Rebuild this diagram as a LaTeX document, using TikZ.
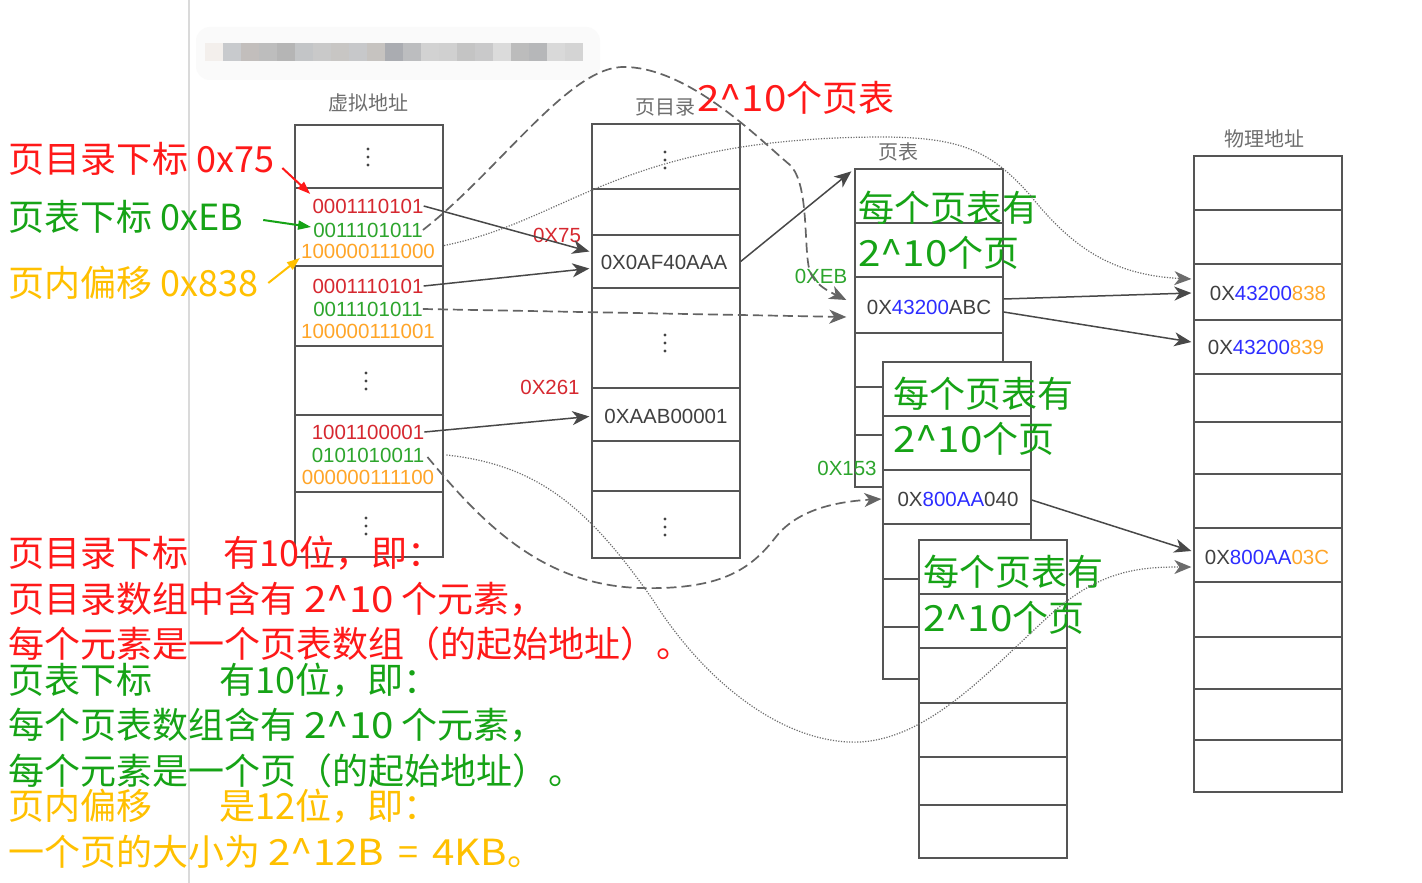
\documentclass[tikz,border=0pt]{standalone}
\usepackage{fontspec}
\setmainfont{Liberation Sans}
\newfontfamily\cjk{Noto Sans CJK SC}
\usetikzlibrary{arrows.meta,calc}

\definecolor{gridline}{HTML}{555555}
\definecolor{boxtxt}{HTML}{404040}
\definecolor{titletxt}{HTML}{6E6E6E}
\definecolor{dotgrey}{HTML}{444444}
\definecolor{bitred}{RGB}{214,40,48}
\definecolor{bitgreen}{RGB}{45,165,45}
\definecolor{bitorange}{RGB}{255,165,40}
\definecolor{addrblue}{RGB}{45,45,255}
\definecolor{notered}{RGB}{255,25,25}
\definecolor{notegreen}{RGB}{22,163,22}
\definecolor{noteorange}{RGB}{255,192,0}
\definecolor{link}{HTML}{484848}
\definecolor{linkdash}{HTML}{646464}
\definecolor{linkdot}{HTML}{6C6C6C}
\definecolor{pagerule}{HTML}{DADADA}

\tikzset{
  cell/.style={draw=gridline, fill=white, line width=1.3pt, inner sep=0pt, minimum width=148pt},
  bits/.style={inner sep=0pt, font=\fontsize{20.5}{20.5}\selectfont},
  addr/.style={inner sep=0pt, text=boxtxt, font=\fontsize{20.5}{20.5}\selectfont},
  idx/.style={inner sep=0pt, font=\fontsize{20.5}{20.5}\selectfont},
  coltitle/.style={inner sep=0pt, text=titletxt, font=\cjk\fontsize{20}{20}\selectfont},
  note/.style={inner sep=0pt, anchor=base west, font=\cjk\fontsize{36}{36}\selectfont},
  pagenote/.style={note, text=notegreen},
  ptr/.style={draw=link, line width=1.5pt, -{Stealth[length=17pt,width=14pt,inset=5pt]}},
  ptrdash/.style={ptr, draw=linkdash, line width=1.7pt, dash pattern=on 10pt off 5pt},
  ptrdot/.style={ptr, draw=linkdot, line width=1.2pt, dash pattern=on 1.2pt off 1.5pt},
  hint/.style={line width=2pt, -{Triangle[length=13pt,width=9pt]}}
}

% three stacked dots marking skipped entries
\newcommand\colondots[2]{%
  \foreach \dd in {-8,0,8}{\fill[dotgrey] ({#1},{#2+\dd}) circle (1.7pt);}}
% slightly wider Latin run inside the CJK lines
\newcommand\wideLatin[1]{\scalebox{1.12}[1]{#1}}

\begin{document}
\begin{tikzpicture}[x=1pt,y=-1pt]
\useasboundingbox (0,0) rectangle (1422,883);
\fill[white] (0,0) rectangle (1422,883);

% page margin rule
\draw[pagerule, line width=2pt] (189,0) -- (189,883);

% pixelated caption strip
\fill[black!2, rounded corners=14pt] (196,27) rectangle (600,80);
\foreach \i/\c in {0/F3EFEC,1/C8CACD,2/C2BEBC,3/BDBDBD,4/B5B5B5,5/C3C5C7,6/C9C9C9,
  7/C8C6C4,8/C7C8CA,9/C6C3C0,10/AAACB1,11/BCBDBF,12/D2D2D2,13/D0D0D0,14/C4C4C4,
  15/C9C9CA,16/DBDBDB,17/BCBCBC,18/B6B7B9,19/D9D9D9,20/D4D4D4}{
  \definecolor{blk}{HTML}{\c}
  \fill[blk] ({205+18*\i},43) rectangle ++(18,18);
}

% column titles
\node[coltitle] (tVirt) at (368,103) {虚拟地址};
\node[coltitle] (tDir)  at (665,107) {页目录};
\node[coltitle] (tTab)  at (898,152) {页表};
\node[coltitle] (tPhys) at (1264,139) {物理地址};

% virtual address column
\node[cell, minimum height=63pt] (v1) at (369,156.5) {};
\node[cell, minimum height=78pt] (v2) at (369,227) {};
\node[cell, minimum height=80pt] (v3) at (369,306) {};
\node[cell, minimum height=69pt] (v4) at (369,380.5) {};
\node[cell, minimum height=77pt] (v5) at (369,453.5) {};
\node[cell, minimum height=65pt] (v6) at (369,524.5) {};

% page directory column
\node[cell, minimum height=65pt]  (d1) at (666,156.5) {};
\node[cell, minimum height=46pt]  (d2) at (666,212) {};
\node[cell, minimum height=53pt]  (d3) at (666,261.5) {};
\node[cell, minimum height=100pt] (d4) at (666,338) {};
\node[cell, minimum height=53pt]  (d5) at (666,414.5) {};
\node[cell, minimum height=50pt]  (d6) at (666,466) {};
\node[cell, minimum height=67pt]  (d7) at (666,524.5) {};

% page table, first
\node[cell, minimum height=54pt] (t1a) at (929,196) {};
\node[cell, minimum height=54pt] (t1b) at (929,250) {};
\node[cell, minimum height=56pt] (t1c) at (929,305) {};
\node[cell, minimum height=54pt] (t1d) at (929,360) {};
\node[cell, minimum height=48pt] (t1e) at (929,411) {};
\node[cell, minimum height=52pt] (t1f) at (929,461) {};
\node[pagenote] (tabNoteA1) at (858,221) {每个页表有};
\node[pagenote] (tabNoteA2) at (858,266) {\wideLatin{2\textasciicircum10}个页};

% page table, second
\node[cell, minimum height=54pt] (t2a) at (957,389) {};
\node[cell, minimum height=54pt] (t2b) at (957,443) {};
\node[cell, minimum height=54pt] (t2c) at (957,497) {};
\node[cell, minimum height=55pt] (t2d) at (957,551.5) {};
\node[cell, minimum height=48pt] (t2e) at (957,603) {};
\node[cell, minimum height=52pt] (t2f) at (957,653) {};
\node[pagenote] (tabNoteB1) at (893,407) {每个页表有};
\node[pagenote] (tabNoteB2) at (893,452) {\wideLatin{2\textasciicircum10}个页};

% page table, third
\node[cell, minimum height=54pt] (t3a) at (993,567) {};
\node[cell, minimum height=54pt] (t3b) at (993,621) {};
\node[cell, minimum height=55pt] (t3c) at (993,675.5) {};
\node[cell, minimum height=54pt] (t3d) at (993,730) {};
\node[cell, minimum height=48pt] (t3e) at (993,781) {};
\node[cell, minimum height=53pt] (t3f) at (993,831.5) {};
\node[pagenote] (tabNoteC1) at (923,585) {每个页表有};
\node[pagenote] (tabNoteC2) at (923,631) {\wideLatin{2\textasciicircum10}个页};

% physical memory column
\node[cell, minimum height=54pt] (p1)  at (1268,183) {};
\node[cell, minimum height=54pt] (p2)  at (1268,237) {};
\node[cell, minimum height=56pt] (p3)  at (1268,292) {};
\node[cell, minimum height=54pt] (p4)  at (1268,347) {};
\node[cell, minimum height=48pt] (p5)  at (1268,398) {};
\node[cell, minimum height=52pt] (p6)  at (1268,448) {};
\node[cell, minimum height=54pt] (p7)  at (1268,501) {};
\node[cell, minimum height=54pt] (p8)  at (1268,555) {};
\node[cell, minimum height=55pt] (p9)  at (1268,609.5) {};
\node[cell, minimum height=52pt] (p10) at (1268,663) {};
\node[cell, minimum height=51pt] (p11) at (1268,714.5) {};
\node[cell, minimum height=52pt] (p12) at (1268,766) {};

% skipped entries
\colondots{368}{157}
\colondots{366}{381}
\colondots{366}{526}
\colondots{665}{160}
\colondots{665}{343}
\colondots{665}{527}

% virtual address bit fields
\node[bits,text=bitred]    (vaDir1) at (368,206) {0001110101};
\node[bits,text=bitgreen]  (vaTab1) at (368,230) {0011101011};
\node[bits,text=bitorange] (vaOff1) at (368,251) {100000111000};
\node[bits,text=bitred]    (vaDir2) at (368,286) {0001110101};
\node[bits,text=bitgreen]  (vaTab2) at (368,309) {0011101011};
\node[bits,text=bitorange] (vaOff2) at (368,331) {100000111001};
\node[bits,text=bitred]    (vaDir3) at (368,432) {1001100001};
\node[bits,text=bitgreen]  (vaTab3) at (368,455) {0101010011};
\node[bits,text=bitorange] (vaOff3) at (368,477) {000000111100};

% table entries and physical addresses
\node[addr] (pdA) at (664,262) {0X0AF40AAA};
\node[addr] (pdB) at (666,416) {0XAAB00001};
\node[addr] (ptA) at (929,307) {0X\textcolor{addrblue}{43200}ABC};
\node[addr] (ptB) at (958,499) {0X\textcolor{addrblue}{800AA}040};
\node[addr] (paA) at (1268,293) {0X\textcolor{addrblue}{43200}\textcolor{bitorange}{838}};
\node[addr] (paB) at (1266,347) {0X\textcolor{addrblue}{43200}\textcolor{bitorange}{839}};
\node[addr] (paC) at (1267,557) {0X\textcolor{addrblue}{800AA}\textcolor{bitorange}{03C}};

% index labels
\node[idx,text=bitred]   (ixDir1) at (557,235) {0X75};
\node[idx,text=bitred]   (ixDir2) at (550,387) {0X261};
\node[idx,text=bitgreen] (ixTab1) at (821,276) {0XEB};
\node[idx,text=bitgreen] (ixTab2) at (847,468) {0X153};

\node[note,text=notered] (dirCount) at (697,111) {\wideLatin{2\textasciicircum10}个页表};

% field annotations
\node[note,text=notered]    (annDir) at (8,172) {页目录下标 0x75};
\node[note,text=notegreen]  (annTab) at (8,230) {页表下标 0xEB};
\node[note,text=noteorange] (annOff) at (8,296) {页内偏移 0x838};
\draw[hint,notered]    ($(annDir.base east)+(8,-4)$)  -- ($(vaDir1.west)+(-2,-12)$);
\draw[hint,notegreen]  ($(annTab.base east)+(20,-10)$) -- ($(vaTab1.west)+(-2,-3)$);
\draw[hint,noteorange] ($(annOff.base east)+(10,-13)$)  -- ($(vaOff1.west)+(-1,7)$);

% explanation
\node[note,text=notered]    (expDir1) at (8,566) {页目录下标\hspace{35pt}有10位，即：};
\node[note,text=notered]    (expDir2) at (8,612) {页目录数组中含有 \wideLatin{2\textasciicircum10} 个元素，};
\node[note,text=notered]    (expDir3) at (8,657) {每个元素是一个页表数组（的起始地址）。};
\node[note,text=notegreen]  (expTab1) at (8,693) {页表下标\hspace{67pt}有10位，即：};
\node[note,text=notegreen]  (expTab2) at (8,738) {每个页表数组含有 \wideLatin{2\textasciicircum10} 个元素，};
\node[note,text=notegreen]  (expTab3) at (8,784) {每个元素是一个页（的起始地址）。};
\node[note,text=noteorange] (expOff1) at (8,819) {页内偏移\hspace{67pt}是12位，即：};
\node[note,text=noteorange] (expOff2) at (8,865) {一个页的大小为 \wideLatin{2\textasciicircum12B}\hspace{14pt}=\hspace{14pt}\wideLatin{4KB}。};

% translation links
\draw[ptr] (vaDir1.east) -- ($(d3.west)+(-2,-10)$);
\draw[ptr] (vaDir2.east) -- ($(d3.west)+(-2,7)$);
\draw[ptr] (vaDir3.east) -- ($(d5.west)+(-2,2)$);
\draw[ptr] (d3.east) -- ($(t1a.north west)+(-3,3)$);
\draw[ptrdash] (vaTab2.east) -- ($(t1c.west)+(-8,12)$);
\draw[ptrdash] (vaTab1.east)
  .. controls (500,170) and (570,65) .. (625,67)
  .. controls (690,68) and (760,140) .. (790,165)
  .. controls (810,185) and (803,250) .. (810,272)
  .. controls (815,285) and (830,292) .. ($(t1c.west)+(-8,-5)$);
\draw[ptrdot] ($(vaOff1.north east)+(9,2)$)
  .. controls (570,220) and (620,138) .. (880,137)
  .. controls (960,137) and (990,150) .. (1030,195)
  .. controls (1070,245) and (1110,275) .. ($(p3.west)+(-2,-13)$);
\draw[ptr] ($(t1c.east)+(0,-6)$) -- ($(p3.west)+(-2,1)$);
\draw[ptr] ($(t1c.east)+(0,7)$) -- ($(p4.west)+(-2,-5)$);
\draw[ptr] ($(t2c.east)+(0,3)$) -- ($(p8.west)+(-2,-4)$);
\draw[ptrdot] ($(vaTab3.east)+(22,0)$)
  .. controls (540,465) and (590,510) .. (653,600)
  .. controls (710,690) and (790,745) .. (860,742)
  .. controls (930,738) and (990,670) .. (1050,615)
  .. controls (1100,570) and (1140,567) .. ($(p8.west)+(-2,12)$);
\draw[ptrdash] ($(vaTab3.east)+(3,2)$)
  .. controls (480,520) and (540,585) .. (640,588)
  .. controls (720,590) and (750,570) .. (775,538)
  .. controls (795,512) and (830,502) .. ($(t2c.west)+(-1,2)$);
\end{tikzpicture}
\end{document}
